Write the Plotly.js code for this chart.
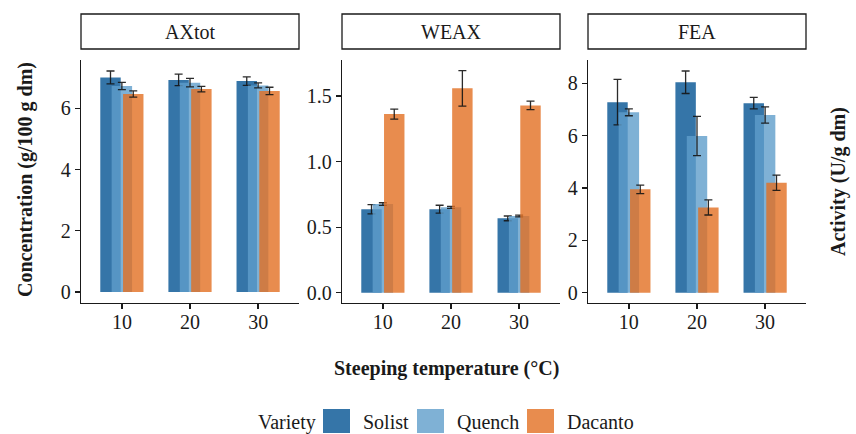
<!DOCTYPE html>
<html>
<head>
<meta charset="utf-8">
<script src="https://cdn.plot.ly/plotly-3.0.1.min.js"></script>
<style>html,body{margin:0;padding:0;background:#fff;}#chart{width:856px;height:434px;}</style>
</head>
<body>
<div id="chart"></div>
<script>
// ---- data ----
var temperatures = ['10', '20', '30'];
var varieties = ['Solist', 'Quench', 'Dacanto'];
var panels = ['AXtot', 'WEAX', 'FEA'];

// AXtot (g/100 g dm)
var axtotSolist  = [7.01, 6.93, 6.89];
var axtotQuench  = [6.73, 6.84, 6.75];
var axtotDacanto = [6.47, 6.63, 6.57];
var axtotSolistSd  = [0.21, 0.19, 0.14];
var axtotQuenchSd  = [0.12, 0.14, 0.08];
var axtotDacantoSd = [0.10, 0.09, 0.12];

// WEAX (g/100 g dm)
var weaxSolist  = [0.636, 0.637, 0.567];
var weaxQuench  = [0.676, 0.651, 0.585];
var weaxDacanto = [1.362, 1.558, 1.428];
var weaxSolistSd  = [0.035, 0.030, 0.018];
var weaxQuenchSd  = [0.010, 0.008, 0.006];
var weaxDacantoSd = [0.038, 0.135, 0.032];

// FEA (U/g dm)
var feaSolist  = [7.28, 8.04, 7.24];
var feaQuench  = [6.89, 5.99, 6.79];
var feaDacanto = [3.95, 3.26, 4.20];
var feaSolistSd  = [0.87, 0.43, 0.22];
var feaQuenchSd  = [0.13, 0.75, 0.31];
var feaDacantoSd = [0.16, 0.29, 0.29];

// ---- styling ----
var FONT = 'Liberation Serif, Times New Roman, serif';
var barColors = ['rgba(2,82,146,0.8)', 'rgba(95,157,203,0.8)', 'rgba(226,111,34,0.8)'];
var barOffsets = [-0.317, -0.15, 0.017];
var barWidth = 0.3;

var panelData = [
  {vals: [axtotSolist, axtotQuench, axtotDacanto], sds: [axtotSolistSd, axtotQuenchSd, axtotDacantoSd], range: [-0.36, 7.58], dtick: 2},
  {vals: [weaxSolist, weaxQuench, weaxDacanto], sds: [weaxSolistSd, weaxQuenchSd, weaxDacantoSd], range: [-0.078, 1.774], dtick: 0.5, fmt: '.1f'},
  {vals: [feaSolist, feaQuench, feaDacanto], sds: [feaSolistSd, feaQuenchSd, feaDacantoSd], range: [-0.39, 8.89], dtick: 2}
];

var W = 856, H = 434;
var xDomPx = [[81, 299], [342, 560], [588, 806]];
var yDomPx = [60, 303];
function fx(px) { return px / W; }
function fy(py) { return 1 - py / H; }

var traces = [];
var layout = {
  width: W, height: H,
  margin: {l: 0, r: 0, t: 0, b: 0},
  paper_bgcolor: '#fff', plot_bgcolor: '#fff',
  barmode: 'overlay',
  showlegend: false,
  font: {family: FONT, size: 20, color: '#1a1a1a'},
  shapes: [], annotations: []
};

panelData.forEach(function (p, pi) {
  var sfx = pi === 0 ? '' : String(pi + 1);
  for (var vi = 0; vi < varieties.length; vi++) {
    traces.push({
      type: 'bar',
      name: varieties[vi],
      x: temperatures,
      y: p.vals[vi],
      xaxis: 'x' + sfx, yaxis: 'y' + sfx,
      width: barWidth,
      offset: barOffsets[vi],
      marker: {color: barColors[vi], line: {width: 0}},
      error_y: {type: 'data', array: p.sds[vi], visible: true, color: 'rgba(20,20,20,0.9)', thickness: 1.3, width: 4},
      hoverinfo: 'x+y+name'
    });
  }
  var xa = {
    domain: [fx(xDomPx[pi][0]), fx(xDomPx[pi][1])],
    anchor: 'y' + sfx,
    type: 'category',
    range: [-0.6, 2.6],
    showline: true, linecolor: '#1a1a1a', linewidth: 1.3,
    ticks: 'outside', ticklen: 5, tickwidth: 1.3, tickcolor: '#1a1a1a',
    ticklabelstandoff: -4,
    showgrid: false, zeroline: false,
    tickfont: {family: FONT, size: 20, color: '#1a1a1a'},
    fixedrange: true
  };
  var ya = {
    domain: [fy(yDomPx[1]), fy(yDomPx[0])],
    anchor: 'x' + sfx,
    range: p.range,
    dtick: p.dtick, tick0: 0,
    showline: true, linecolor: '#1a1a1a', linewidth: 1.3,
    ticks: 'outside', ticklen: 5, tickwidth: 1.3, tickcolor: '#1a1a1a',
    showgrid: false, zeroline: false,
    tickfont: {family: FONT, size: 20, color: '#1a1a1a'},
    fixedrange: true
  };
  if (p.fmt) ya.tickformat = p.fmt;
  layout['xaxis' + sfx] = xa;
  layout['yaxis' + sfx] = ya;

  // strip box + label
  layout.shapes.push({
    type: 'rect', xref: 'paper', yref: 'paper',
    x0: fx(xDomPx[pi][0]), x1: fx(xDomPx[pi][1]), y0: fy(49), y1: fy(14),
    line: {color: '#1a1a1a', width: 1.3}, fillcolor: '#fff'
  });
  layout.annotations.push({
    xref: 'paper', yref: 'paper',
    x: fx((xDomPx[pi][0] + xDomPx[pi][1]) / 2), y: fy(31.5),
    xanchor: 'center', yanchor: 'middle', showarrow: false,
    text: panels[pi], font: {family: FONT, size: 20, color: '#1a1a1a'}
  });
});

// axis titles
layout.annotations.push({
  xref: 'paper', yref: 'paper', x: fx(25), y: fy(180), textangle: -90,
  xanchor: 'center', yanchor: 'middle', showarrow: false,
  text: '<b>Concentration (g/100 g dm)</b>', font: {family: FONT, size: 20, color: '#1a1a1a'}
});
layout.annotations.push({
  xref: 'paper', yref: 'paper', x: fx(838), y: fy(182), textangle: -90,
  xanchor: 'center', yanchor: 'middle', showarrow: false,
  text: '<b>Activity (U/g dm)</b>', font: {family: FONT, size: 20, color: '#1a1a1a'}
});
layout.annotations.push({
  xref: 'paper', yref: 'paper', x: fx(446), y: fy(368),
  xanchor: 'center', yanchor: 'middle', showarrow: false,
  text: '<b>Steeping temperature (°C)</b>', font: {family: FONT, size: 20, color: '#1a1a1a'}
});

// legend (drawn manually to match large keys)
var legendKeyX = [323, 417, 527];
var legendY0 = 409, legendY1 = 433, legendKeyW = 27;
layout.annotations.push({
  xref: 'paper', yref: 'paper', x: fx(256), y: fy(422),
  xanchor: 'left', yanchor: 'middle', showarrow: false,
  text: 'Variety', font: {family: FONT, size: 20, color: '#1a1a1a'}
});
varieties.forEach(function (v, i) {
  layout.shapes.push({
    type: 'rect', xref: 'paper', yref: 'paper',
    x0: fx(legendKeyX[i]), x1: fx(legendKeyX[i] + legendKeyW), y0: fy(legendY1), y1: fy(legendY0),
    line: {width: 0}, fillcolor: barColors[i]
  });
  layout.annotations.push({
    xref: 'paper', yref: 'paper', x: fx(legendKeyX[i] + legendKeyW + 11), y: fy(422),
    xanchor: 'left', yanchor: 'middle', showarrow: false,
    text: v, font: {family: FONT, size: 20, color: '#1a1a1a'}
  });
});

Plotly.newPlot('chart', traces, layout, {displayModeBar: false, staticPlot: true});
</script>
</body>
</html>
